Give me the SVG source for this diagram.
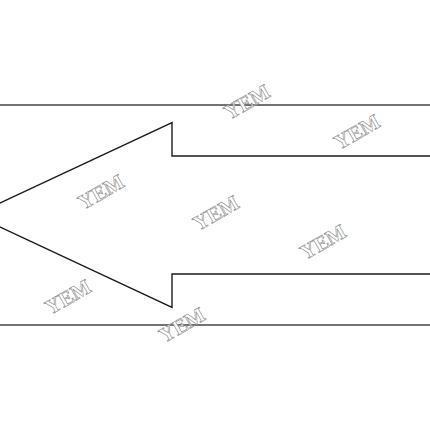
<svg xmlns="http://www.w3.org/2000/svg" width="430" height="430" viewBox="0 0 430 430">
<style>
.frame{stroke:#444;stroke-width:1.5;fill:none}
.arrow{stroke:#1a1a1a;stroke-width:1.4;fill:#fff;stroke-linejoin:miter}
.wm{font-family:"Liberation Serif",serif;font-size:21px;font-weight:bold;fill:#fff;stroke:#808080;stroke-width:0.55;text-anchor:middle;dominant-baseline:central}
</style>
<rect x="0" y="0" width="430" height="430" fill="#fff"/>
<g id="frame">
<line class="frame" x1="0" y1="105" x2="430" y2="105"/>
<line class="frame" x1="0" y1="325" x2="430" y2="325"/>
</g>
<g id="arrow">
<polygon class="arrow" points="-25.5,215 172,122.5 172,156 432,156 432,274 172,274 172,307.5"/>
</g>
<g id="watermarks">
<text class="wm" transform="translate(247,102) rotate(-30)">YEM</text>
<text class="wm" transform="translate(357,132) rotate(-30)">YEM</text>
<text class="wm" transform="translate(101,192) rotate(-30)">YEM</text>
<text class="wm" transform="translate(216,213) rotate(-30)">YEM</text>
<text class="wm" transform="translate(323,242) rotate(-30)">YEM</text>
<text class="wm" transform="translate(68,297) rotate(-30)">YEM</text>
<text class="wm" transform="translate(182,325) rotate(-30)">YEM</text>
</g>
</svg>
